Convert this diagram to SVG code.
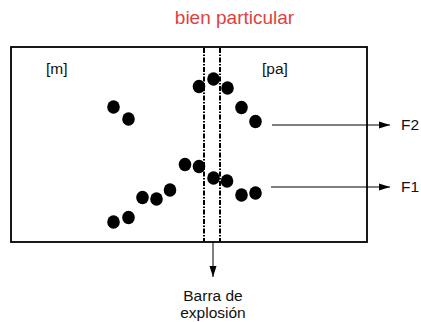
<svg xmlns="http://www.w3.org/2000/svg" width="421" height="322" viewBox="0 0 421 322">
<style>
text{font-family:"Liberation Sans",Arial,sans-serif;fill:#111}
.t{fill:#e0403f;font-size:19px}
.lbl{font-size:15.5px}
.dot{fill:#000}
.conn{stroke:#000;stroke-width:1;fill:none}
.bar{stroke:#000;stroke-width:2;stroke-dasharray:5,1.5,1.5,1.5;fill:none}
</style>
<defs>
<marker id="ah" viewBox="0 0 11 8" refX="11" refY="4" markerWidth="11" markerHeight="8" markerUnits="userSpaceOnUse" orient="auto">
<path d="M0,0.5 L11,4 L0,7.5 Z" fill="#000"/>
</marker>
</defs>
<rect width="421" height="322" fill="#fff"/>
<text id="title" class="t" x="234.5" y="24" text-anchor="middle">bien particular</text>
<g id="box">
<rect x="11" y="47" width="356" height="195" fill="none" stroke="#000" stroke-width="1.8"/>
<text class="lbl" x="46" y="74">[m]</text>
<text class="lbl" x="262" y="74">[pa]</text>
</g>
<g id="bar">
<line class="bar" x1="204" y1="48" x2="204" y2="241"/>
<line class="bar" x1="220" y1="48" x2="220" y2="241"/>
</g>
<g id="dots" class="dot">
<ellipse cx="113.5" cy="107" rx="6.3" ry="6.7"/>
<ellipse cx="128.5" cy="119" rx="6.3" ry="6.7"/>
<ellipse cx="199" cy="86.5" rx="6.3" ry="6.7"/>
<ellipse cx="213.5" cy="79" rx="6.3" ry="6.7"/>
<ellipse cx="227.5" cy="88" rx="6.3" ry="6.7"/>
<ellipse cx="241.5" cy="107.5" rx="6.3" ry="6.7"/>
<ellipse cx="255.5" cy="121.5" rx="6.3" ry="6.7"/>
<ellipse cx="185" cy="164.5" rx="6.3" ry="6.7"/>
<ellipse cx="199" cy="166.5" rx="6.3" ry="6.7"/>
<ellipse cx="213.5" cy="178" rx="6.3" ry="6.7"/>
<ellipse cx="227" cy="181" rx="6.3" ry="6.7"/>
<ellipse cx="241.5" cy="195" rx="6.3" ry="6.7"/>
<ellipse cx="255.5" cy="193" rx="6.3" ry="6.7"/>
<ellipse cx="170" cy="190" rx="6.3" ry="6.7"/>
<ellipse cx="156.5" cy="199" rx="6.3" ry="6.7"/>
<ellipse cx="142.5" cy="197.5" rx="6.3" ry="6.7"/>
<ellipse cx="128.5" cy="217.5" rx="6.3" ry="6.7"/>
<ellipse cx="113.5" cy="222" rx="6.3" ry="6.7"/>
</g>
<g id="connectors">
<line class="conn" x1="272" y1="125" x2="390" y2="125" marker-end="url(#ah)"/>
<line class="conn" x1="271" y1="187" x2="390" y2="187" marker-end="url(#ah)"/>
<line class="conn" x1="213" y1="242" x2="213" y2="277" marker-end="url(#ah)"/>
</g>
<g id="F2"><text class="lbl" x="401" y="130">F2</text></g>
<g id="F1"><text class="lbl" x="401" y="192">F1</text></g>
<g id="barlabel">
<text class="lbl" x="213" y="301" text-anchor="middle">Barra de</text>
<text class="lbl" x="213" y="318" text-anchor="middle">explosión</text>
</g>
</svg>
